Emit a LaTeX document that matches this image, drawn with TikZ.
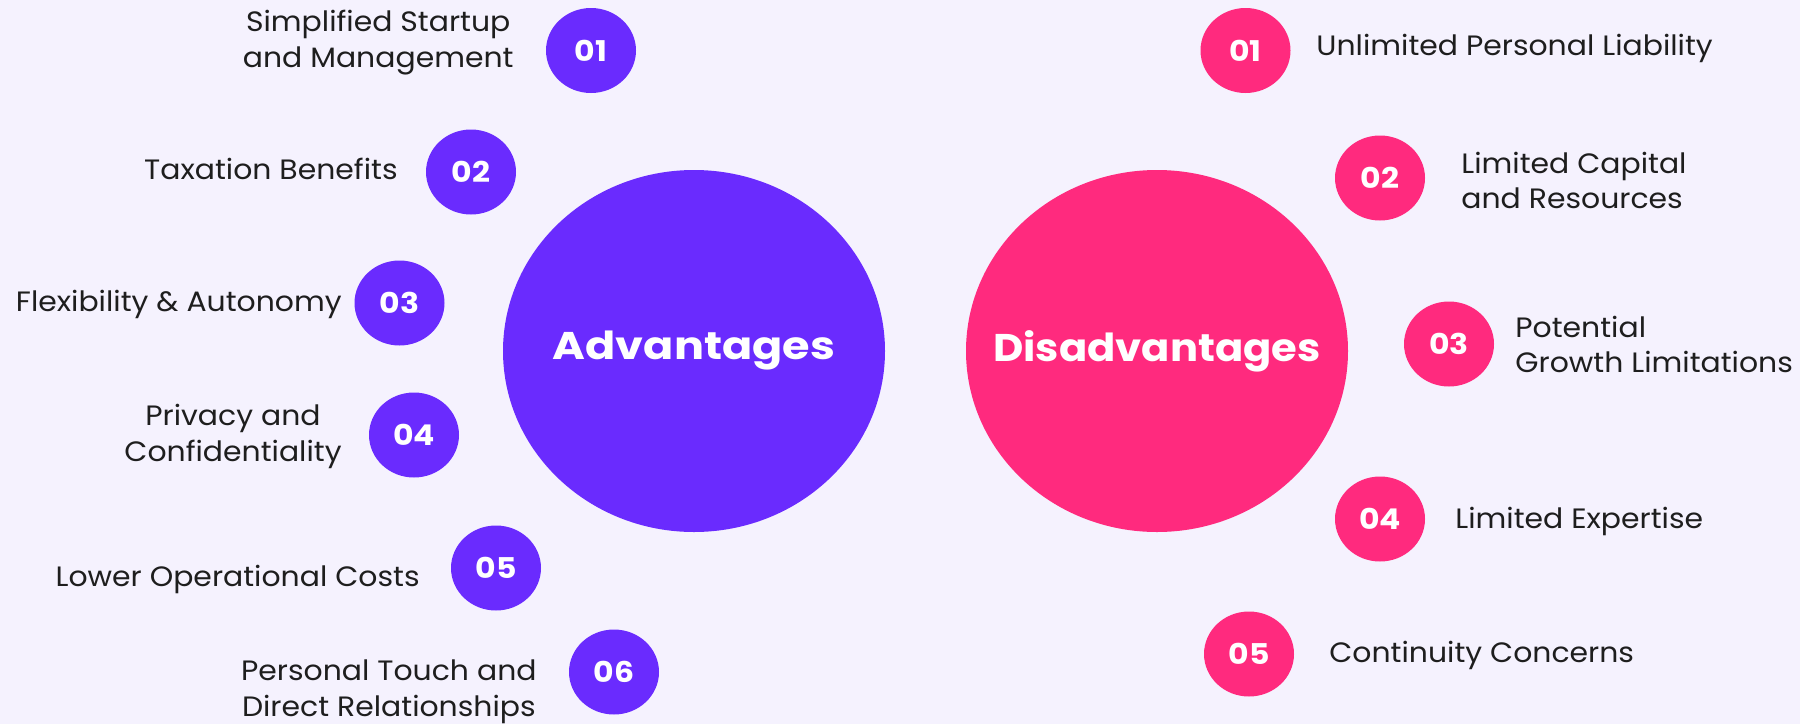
\documentclass[tikz,border=0pt]{standalone}
\usepackage{fontspec}
\setmainfont{Poppins}
\newfontfamily\bodyfont{Poppins}[FakeStretch=1.067]
\newfontfamily\numfont{Poppins}[FakeStretch=1.1]
\newfontfamily\advfont{Poppins}[FakeStretch=1.155]
\newfontfamily\disfont{Poppins}[FakeStretch=1.08]
\usetikzlibrary{shapes.geometric}
\definecolor{bgpaper}{HTML}{F5F2FE}
\definecolor{advpurple}{HTML}{6A2BFE}
\definecolor{dispink}{HTML}{FF2A7E}
\definecolor{labelink}{HTML}{1E1E1E}
\begin{document}
\begin{tikzpicture}[x=0.5pt,y=-0.5pt,
  hub/.style={ellipse,inner sep=0pt,minimum width=191pt,minimum height=181pt},
  hubtext/.style={inner sep=0pt,text=white},
  badge/.style={ellipse,inner sep=0pt,minimum width=45pt,minimum height=42.5pt,text=white,font=\numfont\bfseries\fontsize{14.3}{16}\selectfont},
  advbadge/.style={badge,fill=advpurple},
  disbadge/.style={badge,fill=dispink},
  lbl/.style={text=labelink,inner sep=0pt,align=center,font=\bodyfont\fontsize{14}{17.9}\selectfont},
  rlbl/.style={text=labelink,inner sep=0pt,align=left,font=\bodyfont\fontsize{14}{17.9}\selectfont}]
\fill[bgpaper] (0,0) rectangle (1800,724);
\useasboundingbox (0,0) rectangle (1800,724);

% central hubs
\node[hub,fill=advpurple] (adv) at (694,351) {};
\node[hubtext,font=\advfont\bfseries\fontsize{19.3}{22}\selectfont] (advt) at (adv.center) {Advantages};
\node[hub,fill=dispink] (dis) at (1157,351) {};
\node[hubtext,font=\disfont\bfseries\fontsize{19.3}{22}\selectfont] (dist) at (dis.center) {Disadvantages};

% advantages
\node[advbadge] (a1) at (591,50.5) {01};
\node[advbadge] (a2) at (471,172) {02};
\node[advbadge] (a3) at (399.5,303) {03};
\node[advbadge] (a4) at (414,435) {04};
\node[advbadge] (a5) at (496,568) {05};
\node[advbadge] (a6) at (614,672) {06};

\node[lbl,anchor=east] (ta1) at (514,42.5) {Simplified Startup\\and Management};
\node[lbl,anchor=east] (ta2) at (398,169) {Taxation Benefits};
\node[lbl,anchor=east] (ta3) at (342,304) {Flexibility \& Autonomy};
\node[lbl,anchor=east] (ta4) at (342,436.5) {Privacy and\\Confidentiality};
\node[lbl,anchor=east] (ta5) at (420,579) {Lower Operational Costs};
\node[lbl,anchor=east] (ta6) at (537,691.5) {Personal Touch and\\Direct Relationships};

% disadvantages
\node[disbadge] (d1) at (1245.5,50.5) {01};
\node[disbadge] (d2) at (1380,178) {02};
\node[disbadge] (d3) at (1449,344) {03};
\node[disbadge] (d4) at (1380,519) {04};
\node[disbadge] (d5) at (1249,654) {05};

\node[rlbl,anchor=west] (td1) at (1316,48.5) {Unlimited Personal Liability};
\node[rlbl,anchor=west] (td2) at (1461,180.5) {Limited Capital\\and Resources};
\node[rlbl,anchor=west] (td3) at (1515,344.5) {Potential\\Growth Limitations};
\node[rlbl,anchor=west] (td4) at (1455,521) {Limited Expertise};
\node[rlbl,anchor=west] (td5) at (1329,655.5) {Continuity Concerns};
\end{tikzpicture}
\end{document}
